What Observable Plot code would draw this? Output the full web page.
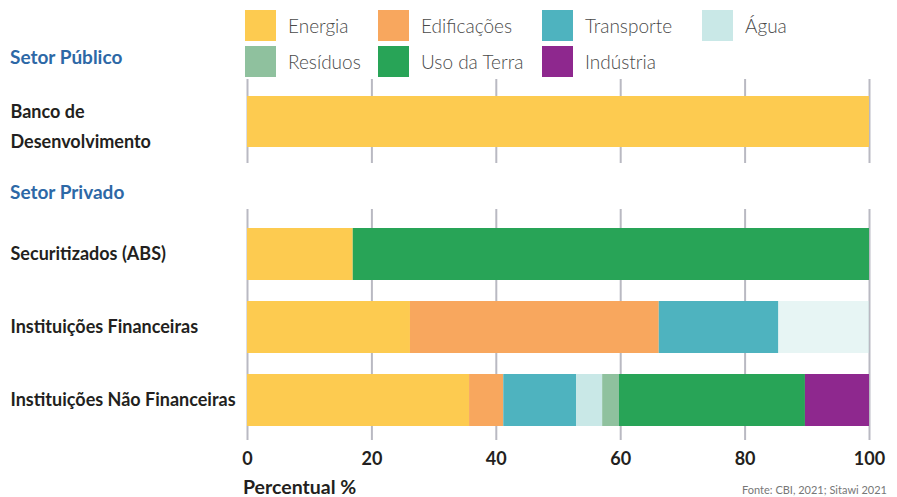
<!DOCTYPE html>
<html>
<head>
<meta charset="utf-8">
<script src="https://cdn.jsdelivr.net/npm/d3@7"></script>
<script src="https://cdn.jsdelivr.net/npm/@observablehq/plot@0.6"></script>
<style>
  html, body { margin: 0; padding: 0; background: #fff; }
  #root { position: relative; width: 897px; height: 497px; overflow: hidden; font-family: Lato, "Noto Sans", sans-serif; }
  .abs { position: absolute; }
  .legend-item { position: absolute; display: flex; align-items: center; height: 31px; }
  .legend-item .sw { width: 31px; height: 31px; margin-right: 12px; flex: none; }
  .legend-item span { font-size: 19px; font-weight: 300; color: #4a4a4a; white-space: nowrap; }
  .header { position: absolute; left: 10px; font-size: 19px; font-weight: 700; color: #2d68a6; line-height: 22px; }
  svg { overflow: visible; }
</style>
</head>
<body>
<div id="root"></div>
<script>
// ---- data ----
const sectors = ["Energia", "Edificações", "Transporte", "Água", "Resíduos", "Uso da Terra", "Indústria"];
const sectorColors = ["#fdcb50", "#f8a75e", "#4eb3bf", "#c9e8e7", "#8fc19e", "#28a457", "#8e288e"];
const publicCategories = ["Banco de Desenvolvimento"];
const privateCategories = ["Securitizados (ABS)", "Instituições Financeiras", "Instituições Não Financeiras"];
const bancoValues = [100, 0, 0, 0, 0, 0, 0];
const securitizadosValues = [17, 0, 0, 0, 0, 83, 0];
const instFinValues = [26.2, 40, 19.2, 14.6, 0, 0, 0];
const instNaoFinValues = [35.7, 5.5, 11.7, 4.2, 2.7, 29.9, 10.3];
const xTicks = [0, 20, 40, 60, 80, 100];
const groupHeaders = ["Setor Público", "Setor Privado"];
const xLabel = "Percentual %";
const source = "Fonte: CBI, 2021; Sitawi 2021";

function rows(cat, vals) {
  return vals.map((v, i) => ({ category: cat, sector: sectors[i], value: v })).filter(d => d.value > 0);
}
const publicData = rows(publicCategories[0], bancoValues);
const privateData = [
  ...rows(privateCategories[0], securitizadosValues),
  ...rows(privateCategories[1], instFinValues),
  ...rows(privateCategories[2], instNaoFinValues)
];

const root = document.getElementById("root");
const color = { domain: sectors, range: sectorColors };
const gridStyle = { stroke: "#b9b9c2", strokeOpacity: 1, strokeWidth: 2 };
const labelFont = { fontSize: 18, fontWeight: 700, fill: "#231f20" };

// ---- legend ----
const legendCols = [245, 378, 542, 702];
const legendRows = [10, 46];
sectors.forEach((s, i) => {
  const item = document.createElement("div");
  item.className = "legend-item";
  item.style.left = legendCols[i % 4] + "px";
  item.style.top = legendRows[Math.floor(i / 4)] + "px";
  item.innerHTML = `<div class="sw" style="background:${sectorColors[i]}"></div><span>${s}</span>`;
  root.appendChild(item);
});

// ---- headers ----
const h1 = document.createElement("div");
h1.className = "header"; h1.style.top = "46px"; h1.textContent = groupHeaders[0];
root.appendChild(h1);
const h2 = document.createElement("div");
h2.className = "header"; h2.style.top = "181px"; h2.textContent = groupHeaders[1];
root.appendChild(h2);

// ---- public panel ----
const plotA = Plot.plot({
  width: 897, height: 84,
  marginLeft: 247, marginRight: 28, marginTop: 0, marginBottom: 0,
  style: { fontFamily: "Lato, 'Noto Sans', sans-serif", overflow: "visible" },
  x: { domain: [0, 100], axis: null },
  y: { domain: publicCategories, padding: 0.245, axis: null },
  color,
  marks: [
    Plot.gridX(xTicks, gridStyle),
    Plot.barX(publicData, Plot.stackX({ x: "value", y: "category", fill: "sector", order: sectors })),
    Plot.axisY({
      label: null,
      tickSize: 0, tickPadding: 0, textAnchor: "start", dx: -237, dy: 1,
      lineHeight: 1.67,
      tickFormat: d => d.replace(" de ", " de\n"),
      ...labelFont
    })
  ]
});
plotA.style.position = "absolute"; plotA.style.left = "0px"; plotA.style.top = "79px";
root.appendChild(plotA);

// ---- private panel ----
const plotB = Plot.plot({
  width: 897, height: 288,
  marginLeft: 247, marginRight: 28, marginTop: 0, marginBottom: 57,
  style: { fontFamily: "Lato, 'Noto Sans', sans-serif", overflow: "visible" },
  x: { domain: [0, 100], axis: null },
  y: { domain: privateCategories, paddingInner: 0.288, paddingOuter: 0.226, align: 0.58, axis: null },
  color,
  marks: [
    Plot.gridX(xTicks, gridStyle),
    Plot.barX(privateData, Plot.stackX({
      x: "value", y: "category", fill: "sector", order: sectors,
      fillOpacity: d => (d.category === privateCategories[1] && d.sector === "Água") ? 0.45 : 1
    })),
    Plot.axisY({ label: null, tickSize: 0, tickPadding: 0, textAnchor: "start", dx: -237, ...labelFont }),
    Plot.axisX({ ticks: xTicks, tickSize: 0, tickPadding: 12, label: null, fontSize: 18, fontWeight: 700, fill: "#231f20" })
  ]
});
plotB.style.position = "absolute"; plotB.style.left = "0px"; plotB.style.top = "209px";
root.appendChild(plotB);

// ---- axis title and source ----
const xl = document.createElement("div");
xl.className = "abs";
xl.style.cssText = "left:243px; top:475px; font-size:19.5px; font-weight:700; color:#231f20; line-height:24px;";
xl.textContent = xLabel;
root.appendChild(xl);

const src = document.createElement("div");
src.className = "abs";
src.style.cssText = "right:10px; top:483px; font-size:11px; font-weight:400; color:#777; line-height:13px; white-space:nowrap;";
src.textContent = source;
root.appendChild(src);
</script>
</body>
</html>
